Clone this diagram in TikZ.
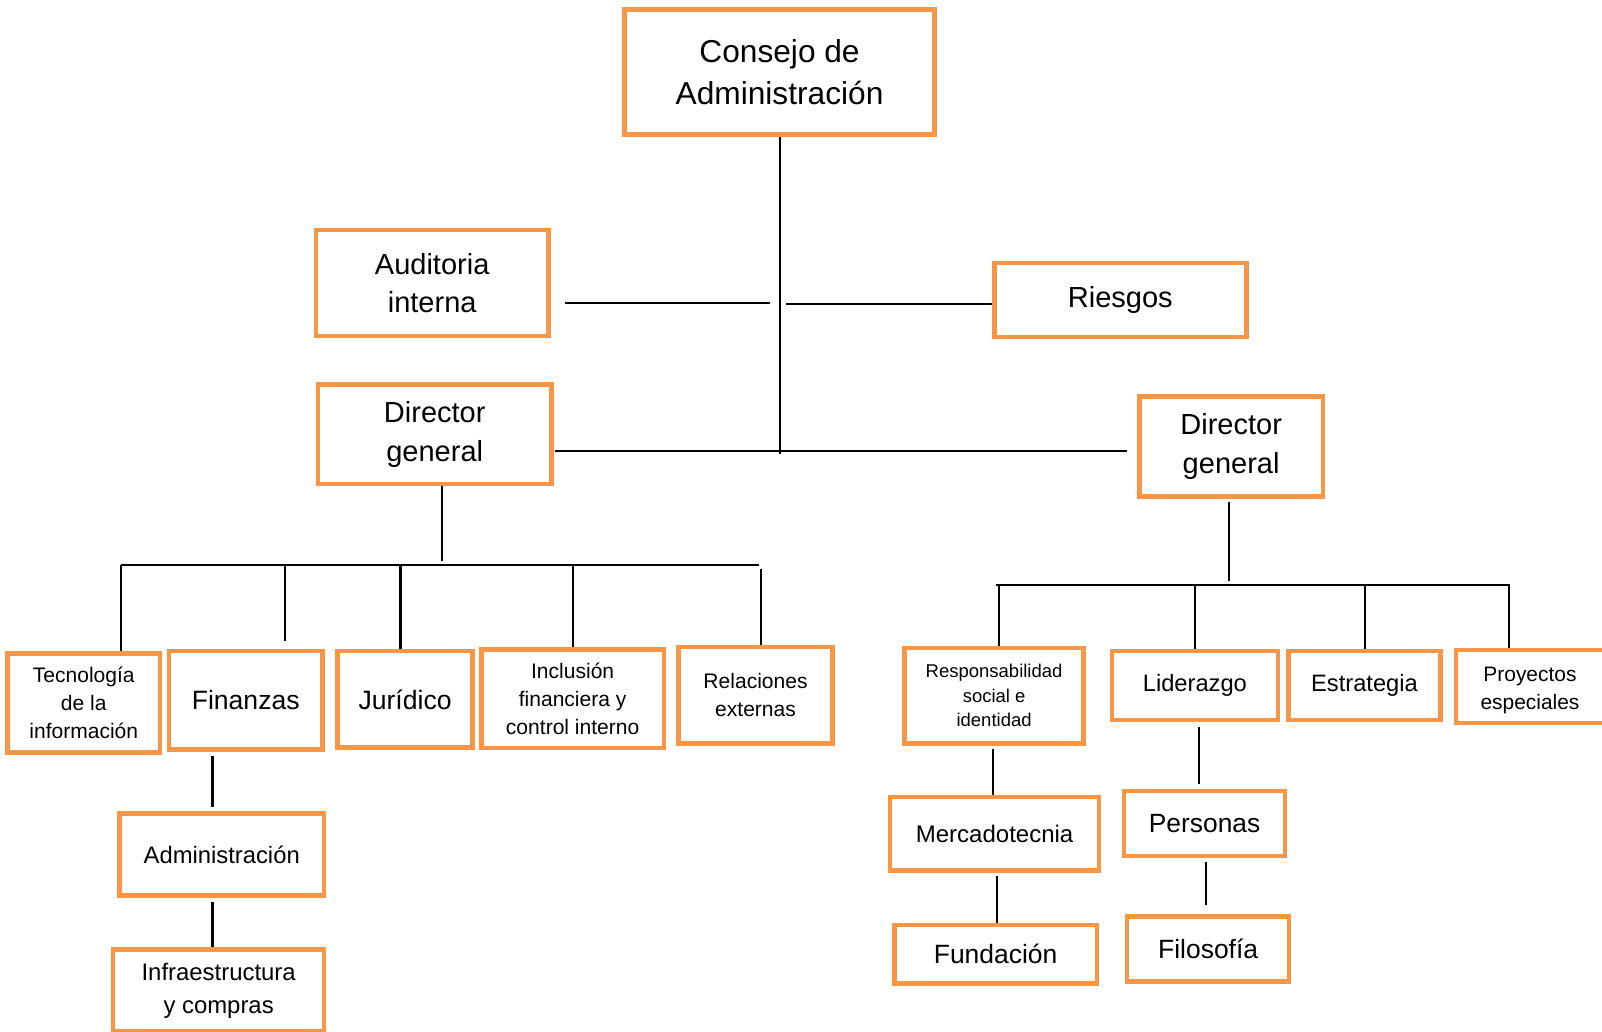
\documentclass[tikz,border=0pt]{standalone}
\usepackage{fontspec}
\setmainfont{Liberation Sans}
\definecolor{org}{HTML}{F79646}
\newcommand{\fsz}[2]{\fontsize{#1pt}{#2pt}\selectfont}
\pgfdeclarelayer{bg}
\pgfdeclarelayer{lines}
\pgfsetlayers{bg,lines,main}
\tikzset{
  box/.style={draw=org, line width=4.5pt, fill=white, align=center, inner sep=0pt, text=black},
  ln/.style={line width=2pt, black},
}
\begin{document}
\begin{tikzpicture}[x=1pt,y=-1pt]
\begin{pgfonlayer}{bg}
  \fill[white] (0,0) rectangle (1568,1010);
\end{pgfonlayer}
\useasboundingbox (0,0) rectangle (1568,1010);

% top level
\node[box, minimum width=303.5pt, minimum height=122.5pt, font=\fsz{31}{41}] (consejo) at (763,70.5) {Consejo de\\Administración};
\node[box, minimum width=227.5pt, minimum height=103.5pt, font=\fsz{28.4}{37}] (auditoria) at (423,277) {Auditoria\\interna};
\node[box, minimum width=246.5pt, minimum height=72.5pt, font=\fsz{28.4}{37}] (riesgos) at (1096.5,293.5) {Riesgos};
\node[box, minimum width=228.5pt, minimum height=97.5pt, font=\fsz{28.4}{38}] (dirL) at (425.5,425) {Director\\general};
\node[box, minimum width=179.5pt, minimum height=97.5pt, font=\fsz{28.4}{38}] (dirR) at (1205,437) {Director\\general};

% left branch
\node[box, minimum width=149.5pt, minimum height=96.5pt, font=\fsz{20.6}{27.5}] (tec) at (82,688) {Tecnología\\de la\\información};
\node[box, minimum width=150.5pt, minimum height=96.5pt, font=\fsz{26}{34}] (fin) at (240.5,685.5) {Finanzas};
\node[box, minimum width=132.5pt, minimum height=94.5pt, font=\fsz{26}{34}] (jur) at (396.5,684.5) {Jurídico};
\node[box, minimum width=178.5pt, minimum height=96.5pt, font=\fsz{20.6}{27.5}] (inc) at (560.5,684) {Inclusión\\financiera y\\control interno};
\node[box, minimum width=150.5pt, minimum height=94.5pt, font=\fsz{20.6}{27}] (rel) at (739.5,680.5) {Relaciones\\externas};
\node[box, minimum width=200.5pt, minimum height=80.5pt, font=\fsz{23.3}{31}] (adm) at (217,836.5) {Administración};
\node[box, minimum width=206.5pt, minimum height=80.5pt, font=\fsz{23.4}{32}] (infra) at (214,969.5) {Infraestructura\\y compras};

% right branch
\node[box, minimum width=175.5pt, minimum height=93.5pt, font=\fsz{18.1}{24}] (resp) at (973,681) {Responsabilidad\\social e\\identidad};
\node[box, minimum width=162.5pt, minimum height=67.5pt, font=\fsz{23.2}{31}] (lid) at (1169.5,671) {Liderazgo};
\node[box, minimum width=148.5pt, minimum height=67.5pt, font=\fsz{23.2}{31}] (est) at (1335.5,671) {Estrategia};
\node[box, minimum width=144.5pt, minimum height=71.5pt,
      label={[font=\fsz{20.5}{27}, align=center, text=black, yshift=-4pt]center:Proyectos\\especiales}] (proy) at (1497.5,672) {};
\node[box, minimum width=204.5pt, minimum height=71.5pt, font=\fsz{23.5}{31}] (merc) at (973.5,816) {Mercadotecnia};
\node[box, minimum width=198.5pt, minimum height=57.5pt, font=\fsz{25.9}{34}] (fund) at (974.5,934) {Fundación};
\node[box, minimum width=157.5pt, minimum height=63.5pt, font=\fsz{25.8}{34}] (pers) at (1179,806) {Personas};
\node[box, minimum width=158.5pt, minimum height=63.5pt, font=\fsz{25.9}{34}] (filo) at (1182.5,929) {Filosofía};

% junction coordinates
\coordinate (vbot) at (763,444);
\coordinate (audA) at (553,297);
\coordinate (audB) at (754,297);
\coordinate (riesA) at (769,298);
\coordinate (dirA) at (543,441);
\coordinate (dirB) at (1103,441);
\coordinate (lvA) at (433,549);
\coordinate (lbusA) at (118,553);
\coordinate (lbusB) at (743,553);
\coordinate (d2) at (279,553);
\coordinate (d2e) at (279,627);
\coordinate (d3) at (392,553);
\coordinate (d4) at (561,553);
\coordinate (d5) at (745,557);
\coordinate (finA) at (208,740);
\coordinate (finB) at (208,790);
\coordinate (admA) at (208,883);
\coordinate (rvA) at (1203,491);
\coordinate (rvB) at (1203,569);
\coordinate (rbusA) at (975,573);
\coordinate (rbusB) at (1478,573);
\coordinate (r1) at (978,573);
\coordinate (r2) at (1170,573);
\coordinate (r3) at (1336,573);
\coordinate (r4) at (1477,573);
\coordinate (respA) at (972,733);
\coordinate (mercA) at (976,857);
\coordinate (mercB) at (976,905);
\coordinate (lidA) at (1174,712);
\coordinate (lidB) at (1174,767);
\coordinate (persA) at (1180,844);
\coordinate (persB) at (1180,886);

\begin{pgfonlayer}{lines}
  \draw[ln] (consejo.south) -- (vbot);
  \draw[ln] (audA) -- (audB);
  \draw[ln] (riesA) -- (riesA -| riesgos.west);
  \draw[ln] (dirA) -- (dirB);
  \draw[ln] (lvA |- dirL.south) -- (lvA);
  \draw[ln] (lbusA) -- (lbusB);
  \draw[ln] (lbusA) -- (lbusA |- tec.north);
  \draw[ln] (d2) -- (d2e);
  \draw[ln] (d3) -- (d3 |- jur.north);
  \draw[ln] (d4) -- (d4 |- inc.north);
  \draw[ln] (d5) -- (d5 |- rel.north);
  \draw[ln] (finA) -- (finB);
  \draw[ln] (admA) -- (admA |- infra.north);
  \draw[ln] (rvA) -- (rvB);
  \draw[ln] (rbusA) -- (rbusB);
  \draw[ln] (r1) -- (r1 |- resp.north);
  \draw[ln] (r2) -- (r2 |- lid.north);
  \draw[ln] (r3) -- (r3 |- est.north);
  \draw[ln] (r4) -- (r4 |- proy.north);
  \draw[ln] (respA) -- (respA |- merc.north);
  \draw[ln] (mercA) -- (mercB);
  \draw[ln] (lidA) -- (lidB);
  \draw[ln] (persA) -- (persB);
\end{pgfonlayer}
\end{tikzpicture}
\end{document}
